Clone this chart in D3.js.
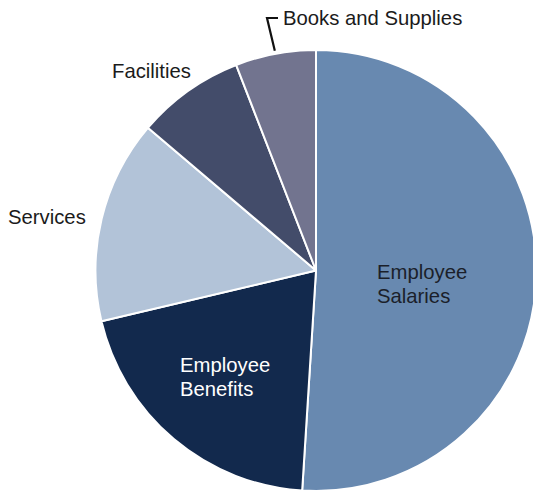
<!DOCTYPE html>
<html>
<head>
<meta charset="utf-8">
<script src="https://cdn.jsdelivr.net/npm/d3@7"></script>
<style>
  html, body { margin: 0; padding: 0; background: #fff; }
  svg { display: block; }
  text { font-family: "Liberation Sans", "Helvetica Neue", Helvetica, Arial, sans-serif; font-size: 20.3px; }
</style>
</head>
<body>
<svg id="chart" width="533" height="491"></svg>
<script>
// Expense categories, clockwise from 12 o'clock
const categories = ["Employee Salaries", "Employee Benefits", "Services", "Facilities", "Books and Supplies"];
// Share of total spending, percent
const shares = [51.0, 20.3, 14.9, 7.9, 5.9];
const colors = ["#6889b0", "#12294d", "#b2c3d8", "#434c6a", "#72748f"];

const svg = d3.select("#chart");
const cx = 316, cy = 270.5, r = 220.5;

const pie = d3.pie().sort(null).value(d => d.value);
const arc = d3.arc().innerRadius(0).outerRadius(r);
const data = categories.map((c, i) => ({ name: c, value: shares[i], color: colors[i] }));
const arcs = pie(data);

const g = svg.append("g").attr("transform", `translate(${cx},${cy})`);
g.selectAll("path")
  .data(arcs)
  .join("path")
  .attr("d", arc)
  .attr("fill", d => d.data.color)
  .attr("stroke", "#fff")
  .attr("stroke-width", 2)
  .attr("stroke-linejoin", "round");

// Label placements: inside labels for the two large slices, outside for the rest
const labelSpec = {
  "Employee Salaries": { x: 377, y: 279, lines: ["Employee", "Salaries"], fill: "#1b1f2a" },
  "Employee Benefits": { x: 180, y: 372, lines: ["Employee", "Benefits"], fill: "#ffffff" },
  "Services": { x: 8, y: 224, lines: ["Services"], fill: "#1b1b1b" },
  "Facilities": { x: 112, y: 78, lines: ["Facilities"], fill: "#1b1b1b" },
  "Books and Supplies": { x: 283, y: 25, lines: ["Books and Supplies"], fill: "#1b1b1b" }
};

categories.forEach(name => {
  const s = labelSpec[name];
  const t = svg.append("text")
    .attr("x", s.x).attr("y", s.y)
    .attr("fill", s.fill);
  s.lines.forEach((ln, i) => {
    t.append("tspan").attr("x", s.x).attr("dy", i === 0 ? 0 : 24).text(ln);
  });
});

// Leader line for the thin "Books and Supplies" slice
const books = arcs[4];
const mid = (books.startAngle + books.endAngle) / 2;
const ex = cx + Math.sin(mid) * (r + 3);
const ey = cy - Math.cos(mid) * (r + 3);
svg.append("path")
  .attr("d", `M${ex},${ey} L267,18 L278,18`)
  .attr("fill", "none")
  .attr("stroke", "#111")
  .attr("stroke-width", 2.2);
</script>
</body>
</html>
